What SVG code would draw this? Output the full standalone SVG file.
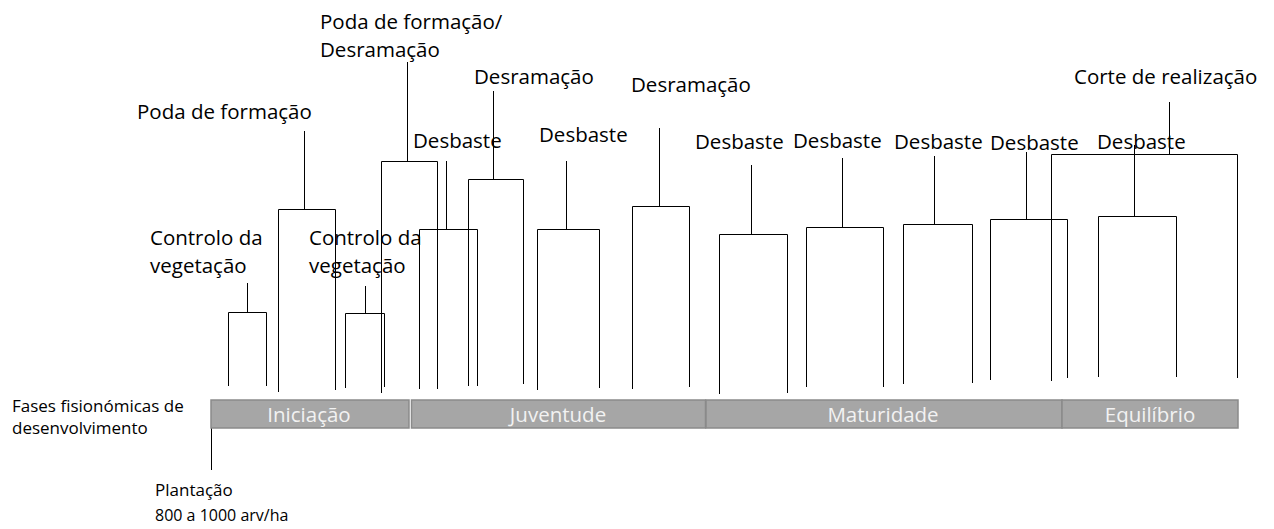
<svg xmlns="http://www.w3.org/2000/svg" width="1274" height="529" viewBox="0 0 1274 529">
<style>
  text { font-family: "Open Sans", "Liberation Sans", sans-serif; fill: #000; }
  .lbl { font-size: 20.5px; }
  .small { font-size: 17px; }
  .phase { font-size: 20.5px; fill: #f2f2f2; text-anchor: middle; }
  .bar { fill: #a6a6a6; stroke: #8a8a8a; stroke-width: 1.5; }
  .conn path { fill: none; stroke: #000; stroke-width: 1; }
</style>
<rect x="0" y="0" width="1274" height="529" fill="#fff"/>

<g id="connectors" class="conn">
  <path d="M247.5 283 V312.5 M228.5 386 V312.5 H266.5 V386"/>
  <path d="M304.5 131 V209.5 M278.5 392 V209.5 H335.5 V390"/>
  <path d="M365.5 286 V313.5 M345.5 388 V313.5 H384.5 V387"/>
  <path d="M407.5 62 V161.5 M381.5 393 V161.5 H437.5 V389"/>
  <path d="M446.5 161 V229.5 M419.5 389 V229.5 H477.5 V386"/>
  <path d="M493.5 91 V179.5 M468.5 386 V179.5 H523.5 V384"/>
  <path d="M566.5 161 V229.5 M537.5 390 V229.5 H599.5 V388"/>
  <path d="M659.5 128 V206.5 M632.5 389 V206.5 H689.5 V387"/>
  <path d="M751.5 165 V234.5 M719.5 394 V234.5 H787.5 V393"/>
  <path d="M842.5 158 V227.5 M806.5 387 V227.5 H883.5 V387"/>
  <path d="M934.5 156 V224.5 M903.5 384 V224.5 H972.5 V383"/>
  <path d="M1026.5 152 V219.5 M990.5 380 V219.5 H1067.5 V378"/>
  <path d="M1169.5 102 V154.5 M1051.5 381 V154.5 H1237.5 V378"/>
  <path d="M1134.5 145 V216.5 M1098.5 377 V216.5 H1176.5 V377"/>
  <path d="M211.5 428 V470"/>
</g>

<g id="phase-iniciacao">
  <rect class="bar" x="211" y="400" width="198" height="28"/>
  <text class="phase" x="309" y="422">Iniciação</text>
</g>
<g id="phase-juventude">
  <rect class="bar" x="411.5" y="400" width="294" height="28"/>
  <text class="phase" x="558" y="422">Juventude</text>
</g>
<g id="phase-maturidade">
  <rect class="bar" x="706" y="400" width="356" height="28"/>
  <text class="phase" x="883" y="422">Maturidade</text>
</g>
<g id="phase-equilibrio">
  <rect class="bar" x="1062" y="400" width="176" height="28"/>
  <text class="phase" x="1150" y="422">Equilíbrio</text>
</g>

<g id="label-fases">
  <text class="small" x="12" y="412">Fases fisionómicas de</text>
  <text class="small" x="12" y="434">desenvolvimento</text>
</g>
<g id="label-plantacao">
  <text class="small" x="155" y="496">Plantação</text>
  <text class="small" x="155" y="521" style="font-size:16px">800 a 1000 arv/ha</text>
</g>

<g id="op-controlo-1">
  <text class="lbl" x="150" y="245">Controlo da</text>
  <text class="lbl" x="150" y="273">vegetação</text>
</g>
<g id="op-poda-1">
  <text class="lbl" x="137" y="119">Poda de formação</text>
</g>
<g id="op-controlo-2">
  <text class="lbl" x="309" y="245">Controlo da</text>
  <text class="lbl" x="309" y="273">vegetação</text>
</g>
<g id="op-poda-desramacao">
  <text class="lbl" x="320" y="29">Poda de formação/</text>
  <text class="lbl" x="320" y="57">Desramação</text>
</g>
<g id="op-desbaste-1">
  <text class="lbl" x="413" y="148">Desbaste</text>
</g>
<g id="op-desramacao-1">
  <text class="lbl" x="474" y="84">Desramação</text>
</g>
<g id="op-desbaste-2">
  <text class="lbl" x="539" y="142">Desbaste</text>
</g>
<g id="op-desramacao-2">
  <text class="lbl" x="631" y="92">Desramação</text>
</g>
<g id="op-desbaste-3">
  <text class="lbl" x="695" y="149">Desbaste</text>
</g>
<g id="op-desbaste-4">
  <text class="lbl" x="793" y="148">Desbaste</text>
</g>
<g id="op-desbaste-5">
  <text class="lbl" x="894" y="149">Desbaste</text>
</g>
<g id="op-desbaste-6">
  <text class="lbl" x="990" y="150">Desbaste</text>
</g>
<g id="op-desbaste-7">
  <text class="lbl" x="1097" y="149">Desbaste</text>
</g>
<g id="op-corte">
  <text class="lbl" x="1074" y="84">Corte de realização</text>
</g>
</svg>
